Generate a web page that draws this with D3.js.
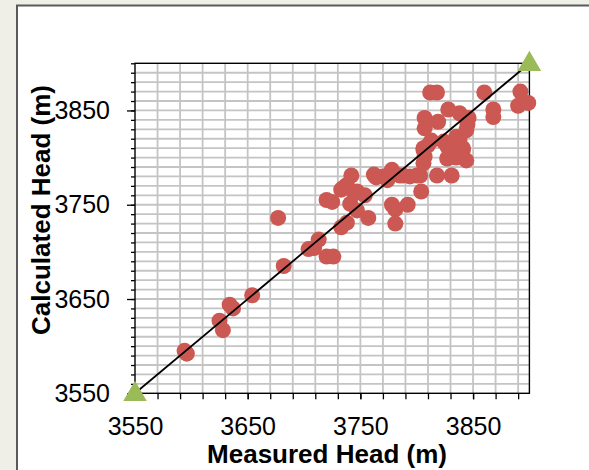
<!DOCTYPE html>
<html>
<head>
<meta charset="utf-8">
<script src="https://cdn.jsdelivr.net/npm/d3@7"></script>
<style>
  html, body { margin: 0; padding: 0; background: #efeee7; }
  svg { display: block; }
</style>
</head>
<body>
<div id="chart"></div>
<script>
// measured vs calculated heads (m)
var measured = [3594, 3596, 3625, 3628, 3634, 3637, 3654, 3677, 3682, 3704,
  3709, 3713, 3720, 3726, 3720, 3725, 3733, 3735, 3738, 3742,
  3745, 3747, 3754, 3741, 3747, 3738, 3733, 3757, 3762, 3764,
  3770, 3774, 3778, 3776, 3785, 3788, 3794, 3800, 3803, 3778,
  3781, 3781, 3792, 3804, 3806, 3807, 3806, 3810, 3813, 3806,
  3807, 3807, 3819, 3812, 3818, 3824, 3827, 3827, 3831, 3835,
  3838, 3841, 3841, 3844, 3844, 3838, 3830, 3818, 3831, 3835,
  3828, 3838, 3846, 3845, 3860, 3868, 3868, 3892, 3890, 3899];
var calculated = [3595, 3592, 3627, 3617, 3644, 3640, 3654, 3736, 3685, 3703,
  3704, 3713, 3695, 3695, 3755, 3753, 3766, 3768, 3771, 3781,
  3762, 3764, 3760, 3751, 3744, 3731, 3726, 3736, 3782, 3779,
  3780, 3776, 3787, 3782, 3781, 3781, 3780, 3781, 3781, 3750,
  3745, 3730, 3750, 3764, 3794, 3801, 3810, 3813, 3818, 3808,
  3831, 3842, 3838, 3869, 3869, 3817, 3812, 3799, 3810, 3822,
  3819, 3810, 3808, 3797, 3829, 3806, 3805, 3781, 3781, 3800,
  3851, 3847, 3842, 3835, 3869, 3851, 3843, 3870, 3855, 3858];

// 1:1 reference line end points
var oneToOne = [3550, 3900];
var tickLabels = [3550, 3650, 3750, 3850];

var width = 589, height = 470;
var margin = {left: 135, top: 63.3, right: 529.4, bottom: 393.3};

var svg = d3.select("#chart").append("svg")
  .attr("width", width)
  .attr("height", height);

// white panel with dark edge on left/top
svg.append("rect")
  .attr("x", 17).attr("y", 5.5)
  .attr("width", width).attr("height", height)
  .attr("fill", "#fff")
  .attr("stroke", "#5a5a5a")
  .attr("stroke-width", 2);

var x = d3.scaleLinear().domain([3550, 3900]).range([margin.left, margin.right]);
var y = d3.scaleLinear().domain([3550, 3900]).range([margin.bottom, margin.top]);

// gridlines
svg.append("g")
  .selectAll("line")
  .data(d3.range(3570, 3900, 20))
  .enter().append("line")
    .attr("x1", function(d) { return x(d); })
    .attr("x2", function(d) { return x(d); })
    .attr("y1", y(3550)).attr("y2", y(3900))
    .attr("stroke", "#c4c4c4").attr("stroke-width", 1.8);

svg.append("g")
  .selectAll("line")
  .data(d3.range(3560, 3900, 10))
  .enter().append("line")
    .attr("y1", function(d) { return y(d); })
    .attr("y2", function(d) { return y(d); })
    .attr("x1", x(3550)).attr("x2", x(3900))
    .attr("stroke", "#c4c4c4").attr("stroke-width", 1.8);

// axes
var font = "'Liberation Sans', Arial, sans-serif";

svg.append("g")
  .attr("transform", "translate(" + x(3550) + ",0)")
  .call(d3.axisLeft(y).tickValues(d3.range(3550, 3901, 10)).tickSize(4).tickFormat(""))
  .call(function(g) { g.select(".domain").remove(); });

svg.append("g")
  .attr("transform", "translate(" + x(3550) + ",0)")
  .call(d3.axisLeft(y).tickValues(tickLabels).tickSize(8).tickPadding(17).tickFormat(d3.format("d")))
  .call(function(g) {
    g.select(".domain").remove();
    g.selectAll("text").attr("font-family", font).attr("font-size", 25).attr("fill", "#000");
  });

svg.append("g")
  .attr("transform", "translate(0," + y(3550) + ")")
  .call(d3.axisBottom(x).tickValues(d3.range(3550, 3901, 20)).tickSize(6).tickFormat(""))
  .call(function(g) { g.select(".domain").remove(); });

svg.append("g")
  .attr("transform", "translate(0," + y(3550) + ")")
  .call(d3.axisBottom(x).tickValues(tickLabels).tickSize(6).tickPadding(18).tickFormat(d3.format("d")))
  .call(function(g) {
    g.select(".domain").remove();
    g.selectAll("text").attr("font-family", font).attr("font-size", 25).attr("fill", "#000");
  });

svg.selectAll(".tick line").attr("stroke", "#000").attr("stroke-width", 1.3);

// plot frame
svg.append("rect")
  .attr("x", x(3550)).attr("y", y(3900))
  .attr("width", x(3900) - x(3550)).attr("height", y(3550) - y(3900))
  .attr("fill", "none").attr("stroke", "#000").attr("stroke-width", 1.4);

// points
svg.append("g")
  .selectAll("circle")
  .data(measured)
  .enter().append("circle")
    .attr("cx", function(d) { return x(d); })
    .attr("cy", function(d, i) { return y(calculated[i]); })
    .attr("r", 8)
    .attr("fill", "#cb5852");

// 1:1 line
svg.append("path")
  .datum(oneToOne)
  .attr("d", d3.line().x(function(d) { return x(d); }).y(function(d) { return y(d); }))
  .attr("stroke", "#000").attr("stroke-width", 1.8).attr("fill", "none");

svg.append("g")
  .selectAll("path")
  .data(oneToOne)
  .enter().append("path")
    .attr("transform", function(d) { return "translate(" + x(d) + "," + (y(d) + 1) + ")"; })
    .attr("d", d3.symbol().type(d3.symbolTriangle).size(240))
    .attr("fill", "#9bbb59");

// axis titles
svg.append("text")
  .attr("x", 327).attr("y", 463)
  .attr("text-anchor", "middle")
  .attr("font-family", font).attr("font-weight", "bold").attr("font-size", 26)
  .text("Measured Head (m)");

svg.append("text")
  .attr("transform", "translate(50,210) rotate(-90)")
  .attr("text-anchor", "middle")
  .attr("font-family", font).attr("font-weight", "bold").attr("font-size", 26)
  .text("Calculated Head (m)");
</script>
</body>
</html>
